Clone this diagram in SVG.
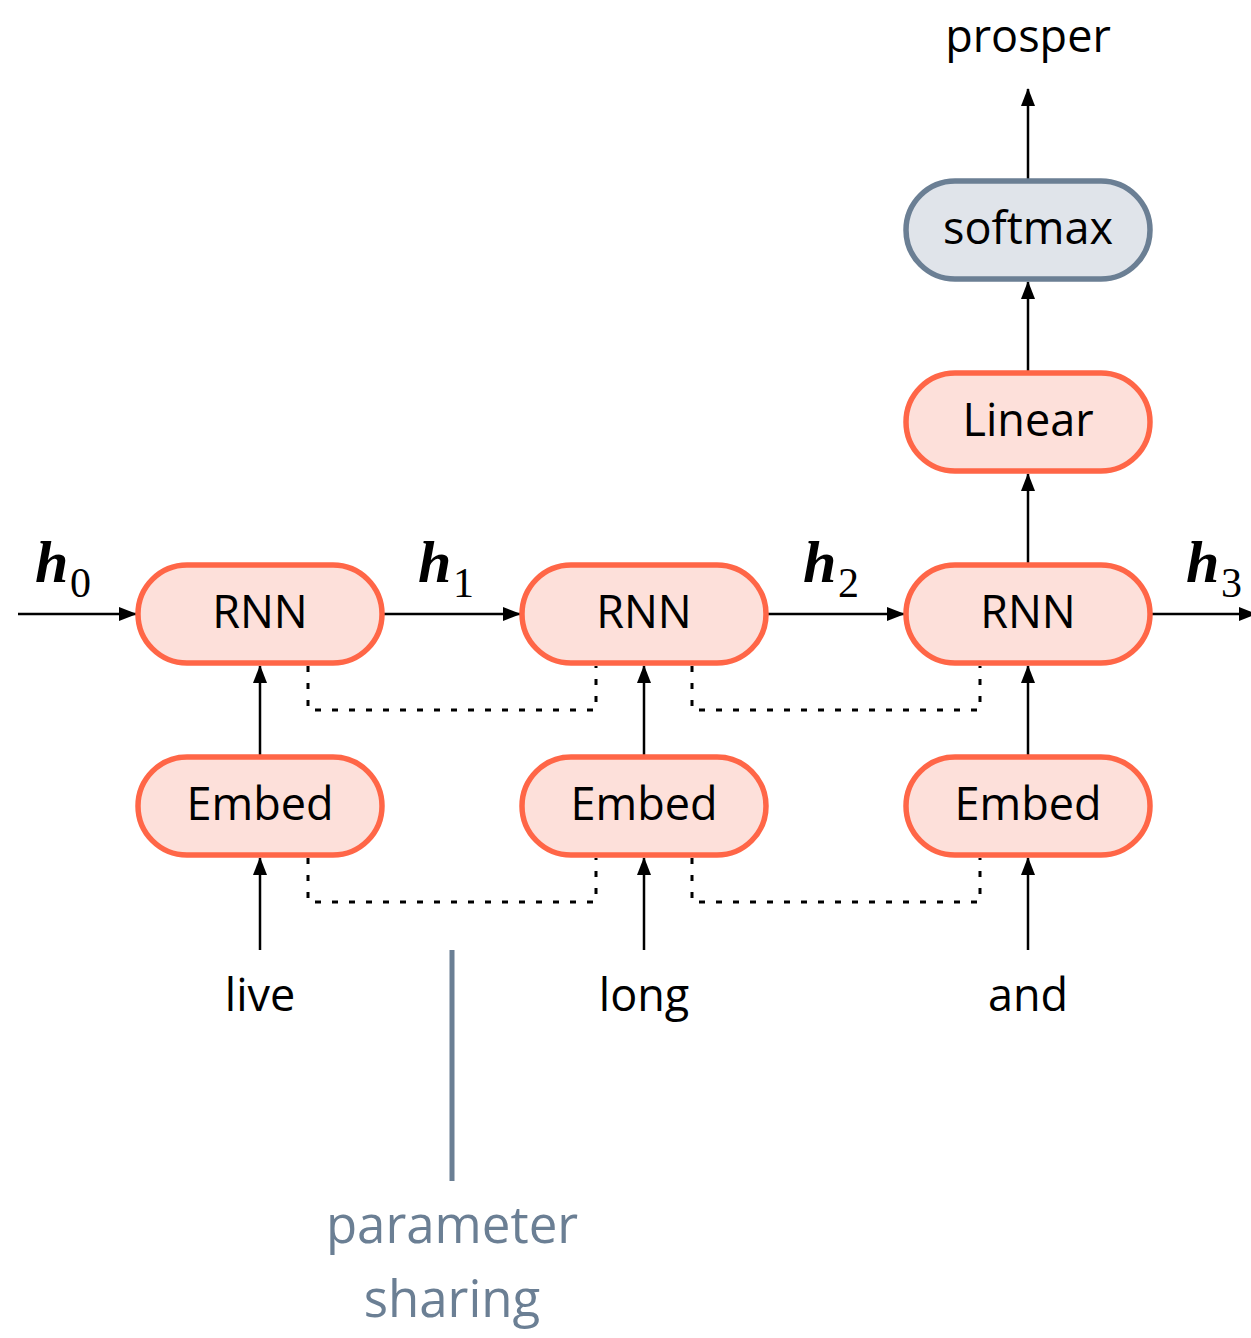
<svg xmlns="http://www.w3.org/2000/svg" width="1251" height="1338" viewBox="0 0 1251 1338">
<style>
.node rect{fill:#fde0da;stroke:#ff6647;stroke-width:5.5}
.node.gray rect{fill:#e0e4ea;stroke:#6b7f94}
.lbl{font-family:"Open Sans","Liberation Sans",sans-serif;font-size:45px;fill:#000;text-anchor:middle}
.arrow{stroke:#000;stroke-width:2.5;fill:none;marker-end:url(#ah)}
.dot{stroke:#000;stroke-width:3;fill:none;stroke-dasharray:6 11}
.hv{font-family:"Liberation Serif","Times New Roman",serif;font-weight:bold;font-style:italic;font-size:60px}
.hs{font-family:"Liberation Serif","Times New Roman",serif;font-size:42px}
.note{font-family:"Open Sans","Liberation Sans",sans-serif;font-size:51px;fill:#6b7f94;text-anchor:middle}
</style>
<defs>
<marker id="ah" markerUnits="userSpaceOnUse" markerWidth="18" markerHeight="15" refX="17" refY="7" orient="auto">
<path d="M0,0 L18,7 L0,14 z" fill="#000"/>
</marker>
</defs>
<g id="connectors">
<line class="arrow" x1="18" y1="614" x2="136" y2="614"/>
<line class="arrow" x1="382" y1="614" x2="520" y2="614"/>
<line class="arrow" x1="766" y1="614" x2="904" y2="614"/>
<line class="arrow" x1="1150" y1="614" x2="1256" y2="614"/>
<line class="arrow" x1="260" y1="755" x2="260" y2="666"/>
<line class="arrow" x1="644" y1="755" x2="644" y2="666"/>
<line class="arrow" x1="1028" y1="755" x2="1028" y2="666"/>
<line class="arrow" x1="260" y1="950" x2="260" y2="858"/>
<line class="arrow" x1="644" y1="950" x2="644" y2="858"/>
<line class="arrow" x1="1028" y1="950" x2="1028" y2="858"/>
<line class="arrow" x1="1028" y1="563" x2="1028" y2="474"/>
<line class="arrow" x1="1028" y1="371" x2="1028" y2="282"/>
<line class="arrow" x1="1028" y1="179" x2="1028" y2="89"/>
<path class="dot" d="M308,666 V710 H596 V666"/>
<path class="dot" d="M692,666 V710 H980 V666"/>
<path class="dot" d="M308,858 V902 H596 V858"/>
<path class="dot" d="M692,858 V902 H980 V858"/>
<line x1="452" y1="950" x2="452" y2="1181" stroke="#6b7f94" stroke-width="5"/>
</g>
<g id="rnn1" class="node"><rect x="138" y="565" width="244" height="98" rx="49"/><text class="lbl" x="260" y="628">RNN</text></g>
<g id="rnn2" class="node"><rect x="522" y="565" width="244" height="98" rx="49"/><text class="lbl" x="644" y="628">RNN</text></g>
<g id="rnn3" class="node"><rect x="906" y="565" width="244" height="98" rx="49"/><text class="lbl" x="1028" y="628">RNN</text></g>
<g id="embed1" class="node"><rect x="138" y="757" width="244" height="98" rx="49"/><text class="lbl" x="260" y="820">Embed</text></g>
<g id="embed2" class="node"><rect x="522" y="757" width="244" height="98" rx="49"/><text class="lbl" x="644" y="820">Embed</text></g>
<g id="embed3" class="node"><rect x="906" y="757" width="244" height="98" rx="49"/><text class="lbl" x="1028" y="820">Embed</text></g>
<g id="linear" class="node"><rect x="906" y="373" width="244" height="98" rx="49"/><text class="lbl" x="1028" y="436">Linear</text></g>
<g id="softmax" class="node gray"><rect x="906" y="181" width="244" height="98" rx="49"/><text class="lbl" x="1028" y="244">softmax</text></g>
<g id="labels">
<text class="lbl" x="1028" y="52">prosper</text>
<text class="lbl" x="260" y="1011">live</text>
<text class="lbl" x="644" y="1011">long</text>
<text class="lbl" x="1028" y="1011">and</text>
<text class="hv" x="35" y="582">h</text><text class="hs" x="70" y="597">0</text>
<text class="hv" x="418" y="582">h</text><text class="hs" x="453" y="597">1</text>
<text class="hv" x="803" y="582">h</text><text class="hs" x="838" y="597">2</text>
<text class="hv" x="1186" y="582">h</text><text class="hs" x="1221" y="597">3</text>
<text class="note" x="452" y="1243">parameter</text>
<text class="note" x="452" y="1317">sharing</text>
</g>
</svg>
